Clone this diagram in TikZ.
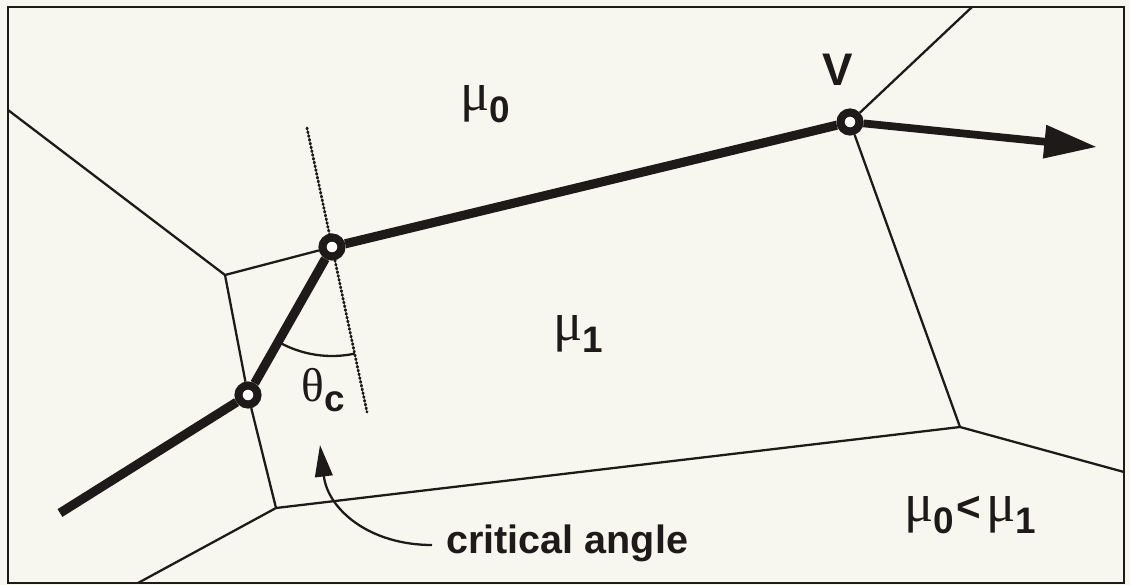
\documentclass[tikz,border=0pt]{standalone}
\usepackage{fontspec}
\setmainfont{Liberation Sans}
\newfontfamily\grk{Liberation Serif}
\usepackage{tikz}
\usetikzlibrary{arrows.meta,calc}

\definecolor{paper}{RGB}{247,247,239}
\definecolor{ink}{RGB}{30,26,26}

\tikzset{
    wall/.style={ink,line width=1.3pt},
    ray/.style={ink,line width=5.2pt},
    hit/.style={circle,draw=ink,fill=white,line width=4.6pt,inner sep=0pt,minimum size=0.38cm},
    normal/.style={ink,line width=1.6pt,line cap=round,dash pattern=on 0.6pt off 1.6pt},
    lbl/.style={ink,inner sep=0pt}
}
\newcommand{\mulab}[1]{{\fontsize{31}{33}\selectfont\grk μ}\raisebox{-6.5pt}{\fontsize{21}{23}\selectfont\bfseries #1}}

\begin{document}
\begin{tikzpicture}[x=0.02cm,y=-0.02cm]
    % paper and frame
    \fill[paper] (0,0) rectangle (1130,585);
    \useasboundingbox (0,0) rectangle (1130,585);
    \draw[ink,line width=1.5pt] (8,7) rectangle (1124,583);

    % cell corners
    \coordinate (w1) at (8,110);
    \coordinate (c1) at (225,275);
    \coordinate (c2) at (276,508);
    \coordinate (w2) at (138,583);
    \coordinate (c3) at (960,427);
    \coordinate (w3) at (1124,472);
    \coordinate (w4) at (972,7);
    \coordinate (start) at (60,513);
    \coordinate (tip) at (1097,147);

    % normal at the interface
    \draw[normal] (307,128) -- (367,412);

    % crossing points
    \node[hit] (a) at (248,395) {};
    \node[hit] (b) at (332,247) {};
    \node[hit] (v) at (850,122) {};

    % cell walls
    \draw[wall] (w1) -- (c1) -- (b);
    \draw[wall] (c1) -- (a);
    \draw[wall] (a) -- (c2);
    \draw[wall] (w2) -- (c2) -- (c3) -- (w3);
    \draw[wall] (c3) -- (v);
    \draw[wall] (v) -- (w4);

    % path
    \draw[ray] (start) -- (a);
    \draw[ray] (a) -- (b);
    \draw[ray] (b) -- (v);
    \draw[ray,line width=4.4pt,-{Triangle[length=30pt,width=18pt]}] (v) -- (tip);

    % angle
    \draw[wall] ($(b)!2.18cm!(a)$) arc[start angle=240.4,end angle=282,radius=2.18cm];
    \node[lbl] (theta) at (323,390) {{\fontsize{27}{29}\selectfont\grk θ}\raisebox{-6pt}{\fontsize{21}{23}\selectfont\bfseries c}};

    % labels
    \node[lbl] (mu0) at (485,104) {\mulab{0}};
    \node[lbl] (mu1) at (578,334) {\mulab{1}};
    \node[lbl] (rel) at (970,515) {\mulab{0}\,{\fontsize{24}{26}\selectfont\bfseries <}\;\mulab{1}};
    \node[lbl,font=\bfseries\fontsize{26}{28}\selectfont] (vlbl) at (838,70) {V};
    \node[lbl,anchor=base west,font=\bfseries\fontsize{22.5}{25}\selectfont] (crit) at (446,553) {critical angle};

    % pointer
    \coordinate (ctail) at (432,545);
    \coordinate (ctip) at (320,445);
    \draw[wall,-{Triangle[length=18pt,width=10pt]}] (ctail) .. controls (370,545) and (328,510) .. (ctip);
\end{tikzpicture}
\end{document}
